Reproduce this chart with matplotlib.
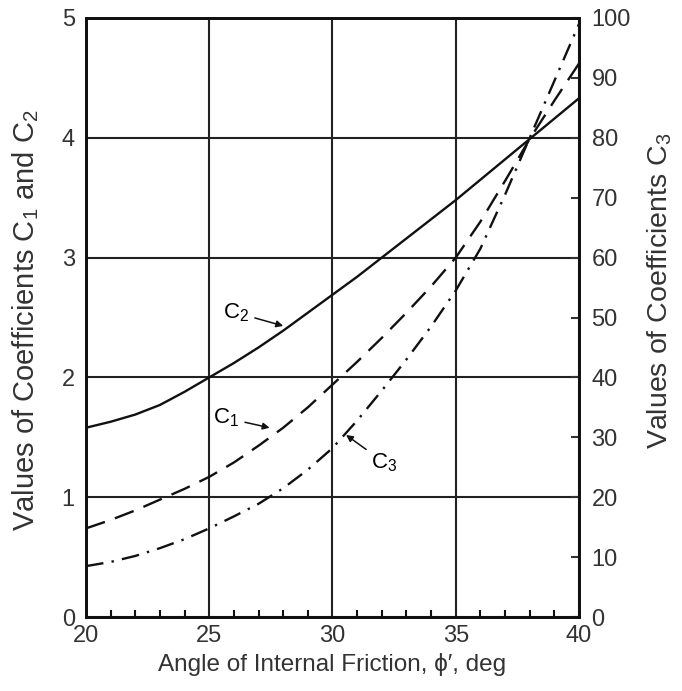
import matplotlib
matplotlib.use("Agg")
import matplotlib.pyplot as plt
from matplotlib.ticker import MultipleLocator

plt.rcParams['font.family'] = ['Liberation Sans', 'DejaVu Sans']
plt.rcParams['mathtext.fontset'] = 'custom'
plt.rcParams['mathtext.rm'] = 'Liberation Sans'
plt.rcParams['mathtext.it'] = 'Liberation Sans:italic'

# Data
phi = [20, 21, 22, 23, 24, 25, 26, 27, 28, 29, 30,
       31, 32, 33, 34, 35, 36, 37, 38, 39, 40]
c2 = [1.58, 1.63, 1.69, 1.77, 1.88, 2.00, 2.12, 2.25, 2.39, 2.54, 2.69,
      2.84, 3.00, 3.16, 3.32, 3.48, 3.65, 3.82, 3.99, 4.16, 4.33]
c1 = [0.74, 0.81, 0.89, 0.98, 1.07, 1.17, 1.29, 1.43, 1.58, 1.75, 1.94,
      2.13, 2.33, 2.54, 2.76, 3.00, 3.30, 3.64, 3.99, 4.31, 4.62]
c3 = [8.5, 9.2, 10.2, 11.5, 13.0, 14.8, 16.8, 18.9, 21.5, 24.6, 28.2,
      32.8, 37.8, 43.0, 48.5, 54.5, 61.5, 70.5, 80.0, 89.5, 99.0]

x_ticks = [20, 25, 30, 35, 40]
y_left_ticks = [0, 1, 2, 3, 4, 5]
y_right_ticks = [0, 10, 20, 30, 40, 50, 60, 70, 80, 90, 100]

fig = plt.figure(figsize=(6.82, 6.91), dpi=100)
ax = fig.add_axes([0.126, 0.107, 0.723, 0.867])
ax2 = ax.twinx()

ax.set_xlim(20, 40)
ax.set_ylim(0, 5)
ax2.set_ylim(0, 100)

ax.set_xticks(x_ticks)
ax.set_yticks(y_left_ticks)
ax2.set_yticks(y_right_ticks)
ax.xaxis.set_minor_locator(MultipleLocator(1))

ax.grid(True, which='major', color='#222222', lw=1.5)
ax.set_axisbelow(True)

for a in (ax, ax2):
    for s in a.spines.values():
        s.set_linewidth(2)
        s.set_color('#111111')

ax.tick_params(axis='x', which='major', length=0, pad=6, labelsize=17, colors='#333333')
ax.tick_params(axis='x', which='minor', direction='in', length=5, width=1.5, color='#111111')
ax.tick_params(axis='y', which='major', length=0, pad=8, labelsize=17, colors='#333333')
ax2.tick_params(axis='y', which='major', direction='in', length=6, width=1.5, pad=9,
                labelsize=17, colors='#333333')

ax.plot(phi, c2, color='#111111', lw=1.7)
ax.plot(phi, c1, color='#111111', lw=1.7, dashes=(8.5, 4.5))
ax2.plot(phi, c3, color='#111111', lw=1.7, dashes=(7.5, 3.5, 1, 3.5))

ax.set_xlabel("Angle of Internal Friction, \u03d5\u2032, deg", fontsize=17.5, color='#333333', labelpad=4)
ax.set_ylabel("Values of Coefficients $\\mathrm{C_1}$ and $\\mathrm{C_2}$", fontsize=21,
              color='#333333')
ax.yaxis.set_label_coords(-0.092, 0.495)
ax2.set_ylabel("Values of Coefficients $\\mathrm{C_3}$", fontsize=20.5, color='#333333')
ax2.yaxis.set_label_coords(1.135, 0.545)

arrow = dict(arrowstyle='-|>', lw=1.1, color='#111111', mutation_scale=10, shrinkA=2, shrinkB=0)
ax.annotate("$\\mathrm{C_2}$", xy=(28.0, 2.43), xytext=(26.1, 2.54), fontsize=16,
            ha='center', va='center', arrowprops=arrow)
ax.annotate("$\\mathrm{C_1}$", xy=(27.45, 1.58), xytext=(25.7, 1.66), fontsize=16,
            ha='center', va='center', arrowprops=arrow)
ax2.annotate("$\\mathrm{C_3}$", xy=(30.55, 30.4), xytext=(32.1, 25.8), fontsize=16,
             ha='center', va='center', arrowprops=arrow)

fig.savefig("out.png", dpi=100)
